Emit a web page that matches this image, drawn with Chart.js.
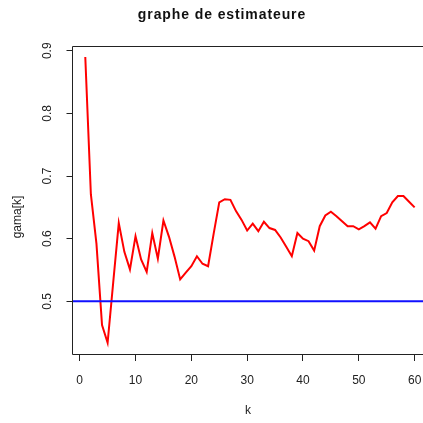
<!DOCTYPE html>
<html>
<head>
<meta charset="utf-8">
<title>graphe de estimateure</title>
<script src="https://cdn.jsdelivr.net/npm/chart.js@4.4.1/dist/chart.umd.min.js"></script>
<style>
  html, body { margin: 0; padding: 0; background: #fff; }
  #wrap { width: 423px; height: 423px; }
</style>
</head>
<body>
<div id="wrap"><canvas id="plot" width="423" height="423"></canvas></div>
<script>
// k = 1..60
const kValues = [1, 2, 3, 4, 5, 6, 7, 8, 9, 10, 11, 12, 13, 14, 15, 16, 17, 18, 19, 20,
  21, 22, 23, 24, 25, 26, 27, 28, 29, 30, 31, 32, 33, 34, 35, 36, 37, 38, 39, 40,
  41, 42, 43, 44, 45, 46, 47, 48, 49, 50, 51, 52, 53, 54, 55, 56, 57, 58, 59, 60];

// estimator gama[k]
const gama = [0.890, 0.671, 0.592, 0.462, 0.434, 0.530, 0.625, 0.579, 0.551, 0.604,
  0.567, 0.547, 0.609, 0.568, 0.629, 0.603, 0.571, 0.535, 0.546, 0.556,
  0.572, 0.560, 0.556, 0.608, 0.658, 0.663, 0.662, 0.644, 0.630, 0.613,
  0.624, 0.612, 0.627, 0.617, 0.614, 0.602, 0.587, 0.572, 0.609, 0.600,
  0.596, 0.581, 0.620, 0.637, 0.643, 0.636, 0.628, 0.620, 0.620, 0.615,
  0.620, 0.626, 0.616, 0.636, 0.641, 0.658, 0.668, 0.668, 0.659, 0.650];

// horizontal reference level
const refLevel = 0.5;

const xTicks = [0, 10, 20, 30, 40, 50, 60];
const yTicks = [0.5, 0.6, 0.7, 0.8, 0.9];

const X_MIN = -1.38, X_MAX = 61.5;
const Y_MIN = 0.416, Y_MAX = 0.908;

const FONT = "'Liberation Sans', Arial, Helvetica, sans-serif";

// box around the plot region plus the main/axis titles
const framePlugin = {
  id: 'frame',
  afterDraw(chart) {
    const { ctx, chartArea: a } = chart;
    ctx.save();
    ctx.strokeStyle = '#222';
    ctx.lineWidth = 1;
    ctx.beginPath();
    ctx.moveTo(a.right + 5, Math.round(a.top) + 0.5);
    ctx.lineTo(Math.round(a.left) + 0.5, Math.round(a.top) + 0.5);
    ctx.lineTo(Math.round(a.left) + 0.5, Math.round(a.bottom) + 0.5);
    ctx.lineTo(a.right + 5, Math.round(a.bottom) + 0.5);
    ctx.stroke();

    ctx.fillStyle = '#111';
    ctx.textAlign = 'center';
    ctx.textBaseline = 'alphabetic';
    ctx.font = 'bold 14px ' + FONT;
    ctx.letterSpacing = '0.9px';
    ctx.fillText('graphe de estimateure', 222, 19);
    ctx.letterSpacing = '0px';

    ctx.font = '12px ' + FONT;
    ctx.fillStyle = '#222';
    ctx.fillText('k', 248, 414);

    ctx.translate(21, 217);
    ctx.rotate(-Math.PI / 2);
    ctx.fillText('gama[k]', 0, 0);
    ctx.restore();
  }
};

new Chart(document.getElementById('plot'), {
  type: 'line',
  data: {
    datasets: [
      {
        label: 'ref',
        data: [{ x: X_MIN, y: refLevel }, { x: X_MAX, y: refLevel }],
        borderColor: 'rgb(16, 16, 255)',
        borderWidth: 2,
        pointRadius: 0,
      },
      {
        label: 'gama[k]',
        data: kValues.map((k, i) => ({ x: k, y: gama[i] })),
        borderColor: '#ff0000',
        borderWidth: 2,
        pointRadius: 0,
        tension: 0,
      },
    ],
  },
  options: {
    responsive: false,
    animation: false,
    devicePixelRatio: 1,
    layout: { padding: { top: 45.7, left: 0, right: 0, bottom: 0 } },
    plugins: {
      legend: { display: false },
      tooltip: { enabled: false },
      title: { display: false },
    },
    scales: {
      x: {
        type: 'linear',
        min: X_MIN,
        max: X_MAX,
        afterFit: (s) => { s.height = 69; s.paddingLeft = 0; s.paddingRight = 0; },
        afterBuildTicks: (s) => { s.ticks = xTicks.map((v) => ({ value: v })); },
        grid: { drawOnChartArea: false, drawTicks: true, tickLength: 7, tickColor: '#222', tickWidth: 1 },
        border: { display: false },
        ticks: {
          font: { family: FONT, size: 12 },
          color: '#222',
          padding: 12,
          maxRotation: 0,
          autoSkip: false,
        },
      },
      y: {
        type: 'linear',
        min: Y_MIN,
        max: Y_MAX,
        afterFit: (s) => { s.width = 72; s.paddingTop = 0; s.paddingBottom = 0; },
        afterBuildTicks: (s) => { s.ticks = yTicks.map((v) => ({ value: v })); },
        grid: { drawOnChartArea: false, drawTicks: true, tickLength: 5.5, tickColor: '#222', tickWidth: 1 },
        border: { display: false },
        ticks: {
          font: { family: FONT, size: 12 },
          color: '#222',
          padding: 10,
          minRotation: 90,
          maxRotation: 90,
          crossAlign: 'center',
          autoSkip: false,
          callback: (v) => v.toFixed(1),
        },
      },
    },
  },
  plugins: [framePlugin],
});
</script>
</body>
</html>
